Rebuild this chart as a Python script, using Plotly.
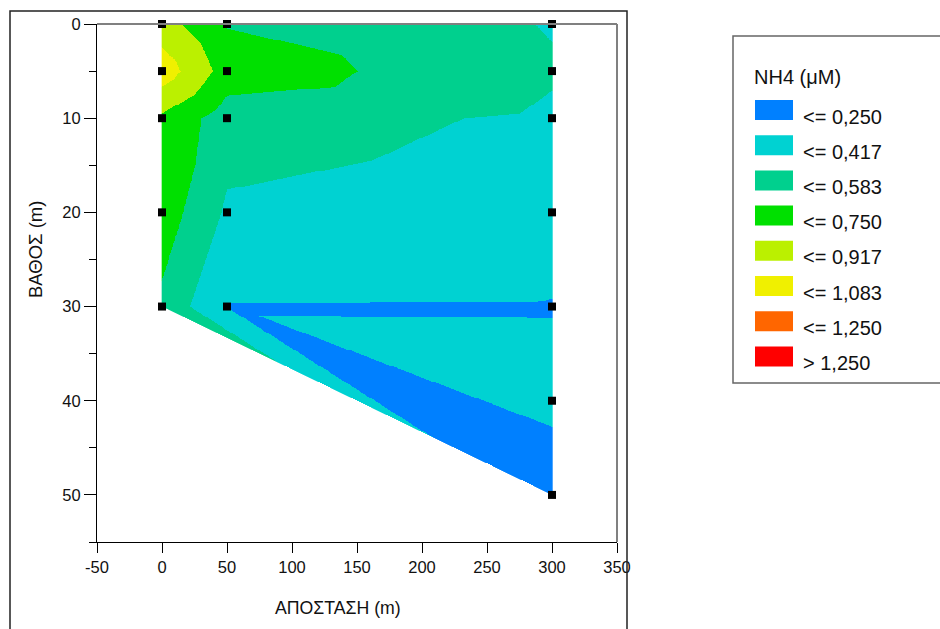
import numpy as np
import plotly.graph_objects as go

# ---------------- data ----------------
STATION_X = [0, 50, 300]                       # distance of each station (m)
DEPTH_S0 = [0, 5, 10, 20, 30]                   # sample depths, station at 0 m
DEPTH_S1 = [0, 5, 10, 20, 30]                   # sample depths, station at 50 m
DEPTH_S2 = [0, 5, 10, 20, 30, 40, 50]           # sample depths, station at 300 m
NH4_S0 = [0.826, 1.010, 0.720, 0.676, 0.547]    # NH4 (uM)
NH4_S1 = [0.572, 0.680, 0.495, 0.392, 0.245]
NH4_S2 = [0.404, 0.438, 0.388, 0.321, 0.243, 0.300, 0.118]

LEVELS = [0.250, 0.417, 0.583, 0.750, 0.917, 1.083, 1.250]
COLORS = ["#0080FF", "#00D2D2", "#00D08E", "#00E000",
          "#BBF000", "#F0F000", "#FF6600", "#FF0000"]
X_TICKS = [-50, 0, 50, 100, 150, 200, 250, 300, 350]
Y_TICKS = [0, 10, 20, 30, 40, 50]
X_RANGE = [-50, 350]
Y_RANGE = [55, 0]
LEGEND_TITLE = "NH4 (μM)"
X_TITLE = "ΑΠΟΣΤΑΣΗ (m)"
Y_TITLE = "ΒΑΘΟΣ (m)"

# triangulation of the sampling points (point indices, station by station)
TRIANGLES = [(0, 5, 1), (1, 5, 6), (1, 6, 7), (1, 2, 7), (2, 7, 3), (3, 7, 8),
             (3, 8, 4), (8, 9, 4), (4, 9, 16),
             (5, 6, 10), (6, 10, 11), (6, 11, 12), (6, 7, 12), (7, 12, 13),
             (7, 8, 13), (8, 13, 14), (8, 9, 14), (9, 14, 15), (9, 15, 16)]

# ---------------- build point table ----------------
px_, py_, pv_ = [], [], []
for sx, deps, vals in zip(STATION_X, [DEPTH_S0, DEPTH_S1, DEPTH_S2],
                          [NH4_S0, NH4_S1, NH4_S2]):
    for d, v in zip(deps, vals):
        px_.append(sx); py_.append(d); pv_.append(v)
px_ = np.array(px_, float); py_ = np.array(py_, float); pv_ = np.array(pv_, float)

# linear interpolation on triangles onto a fine grid
gx = np.arange(min(STATION_X), max(STATION_X) + 0.25, 0.5)
gy = np.arange(0, max(DEPTH_S2) + 0.05, 0.1)
GX, GY = np.meshgrid(gx, gy)
Z = np.full(GX.shape, np.nan)
for (i, j, k) in TRIANGLES:
    x1, y1, x2, y2, x3, y3 = px_[i], py_[i], px_[j], py_[j], px_[k], py_[k]
    det = (y2 - y3) * (x1 - x3) + (x3 - x2) * (y1 - y3)
    l1 = ((y2 - y3) * (GX - x3) + (x3 - x2) * (GY - y3)) / det
    l2 = ((y3 - y1) * (GX - x3) + (x1 - x3) * (GY - y3)) / det
    l3 = 1 - l1 - l2
    inside = (l1 >= -1e-9) & (l2 >= -1e-9) & (l3 >= -1e-9)
    val = l1 * pv_[i] + l2 * pv_[j] + l3 * pv_[k]
    Z[inside] = val[inside]

band = np.digitize(Z, LEVELS, right=True).astype(float)
band[np.isnan(Z)] = np.nan

n = len(COLORS)
cscale = []
for i, c in enumerate(COLORS):
    cscale.append([i / n, c])
    cscale.append([(i + 1) / n, c])

fig = go.Figure()
fig.add_trace(go.Heatmap(x=gx, y=gy, z=band, zmin=-0.5, zmax=n - 0.5,
                         colorscale=cscale, showscale=False, zsmooth=False,
                         hoverinfo="skip"))
# clean white edge below the sea-floor line joining the deepest samples
floor_x = [STATION_X[0], STATION_X[-1], STATION_X[-1] + 1, STATION_X[0] - 1]
floor_y = [DEPTH_S0[-1], DEPTH_S2[-1], Y_RANGE[0], Y_RANGE[0]]
fig.add_trace(go.Scatter(x=floor_x, y=floor_y, mode="lines", fill="toself",
                         fillcolor="white", line=dict(width=0, color="white"),
                         hoverinfo="skip", showlegend=False))
fig.add_trace(go.Scatter(x=px_, y=py_, mode="markers",
                         marker=dict(symbol="square", size=8, color="black"),
                         cliponaxis=False, hoverinfo="skip", showlegend=False))

FONT = "Liberation Sans, Arial, Helvetica, sans-serif"
W, H = 940, 629
L, R, T, B = 97, 323, 24, 87
PW, PH = W - L - R, H - T - B


def pxp(x):
    return (x - L) / PW


def pyp(y):
    return 1 - (y - T) / PH


shapes = [
    dict(type="line", xref="paper", yref="paper", x0=0, x1=1, y0=1, y1=1,
         line=dict(color="#808080", width=2)),
    dict(type="line", xref="paper", yref="paper", x0=1, x1=1, y0=0, y1=1,
         line=dict(color="#808080", width=2)),
    dict(type="rect", xref="paper", yref="paper", x0=pxp(10), x1=pxp(627),
         y0=pyp(700), y1=pyp(11), line=dict(color="#222", width=1.5)),
    dict(type="rect", xref="paper", yref="paper", x0=pxp(733), x1=pxp(960),
         y0=pyp(383), y1=pyp(36), line=dict(color="#666", width=1.5)),
]
annotations = [
    dict(text=LEGEND_TITLE, xref="paper", yref="paper", x=pxp(752), y=pyp(77),
         xanchor="left", yanchor="middle", showarrow=False,
         font=dict(family=FONT, size=20, color="#111")),
    dict(text=X_TITLE, xref="paper", yref="paper", x=pxp(338), y=pyp(608),
         xanchor="center", yanchor="middle", showarrow=False,
         font=dict(family=FONT, size=17.7, color="#111")),
    dict(text=Y_TITLE, xref="paper", yref="paper", x=pxp(35), y=pyp(250),
         xanchor="center", yanchor="middle", showarrow=False, textangle=-90,
         font=dict(family=FONT, size=18.5, color="#111")),
]
labels = ["<= " + f"{lv:.3f}".replace(".", ",") for lv in LEVELS]
labels.append("> " + f"{LEVELS[-1]:.3f}".replace(".", ","))
for i, (c, lab) in enumerate(zip(COLORS, labels)):
    top = 100 + 35.2 * i
    shapes.append(dict(type="rect", xref="paper", yref="paper",
                       x0=pxp(755), x1=pxp(793), y0=pyp(top + 20), y1=pyp(top),
                       fillcolor=c, line=dict(width=0)))
    annotations.append(dict(text=lab, xref="paper", yref="paper", x=pxp(801),
                            y=pyp(top + 16.5), xanchor="left", yanchor="middle",
                            showarrow=False,
                            font=dict(family=FONT, size=20, color="#111")))

fig.update_layout(
    width=W, height=629, autosize=False,
    margin=dict(l=L, r=R, t=T, b=B, pad=0),
    paper_bgcolor="white", plot_bgcolor="white",
    font=dict(family=FONT, size=16, color="#111"),
    showlegend=False, shapes=shapes, annotations=annotations,
    xaxis=dict(range=X_RANGE, tickmode="array", tickvals=X_TICKS,
               ticktext=[str(v) for v in X_TICKS], ticks="outside", ticklen=10,
               tickcolor="black", showline=True, linecolor="black", linewidth=1,
               showgrid=False, zeroline=False, tickfont=dict(size=16.5)),
    yaxis=dict(range=Y_RANGE, tickmode="array", tickvals=Y_TICKS,
               ticktext=[str(v) for v in Y_TICKS], ticks="outside", ticklen=12,
               tickcolor="black", showline=True, linecolor="black", linewidth=1,
               showgrid=False, zeroline=False, tickfont=dict(size=16.5),
               minor=dict(dtick=5, tick0=0, ticks="outside", ticklen=7,
                          tickcolor="black", showgrid=False)),
)
fig.write_html("out.html")
